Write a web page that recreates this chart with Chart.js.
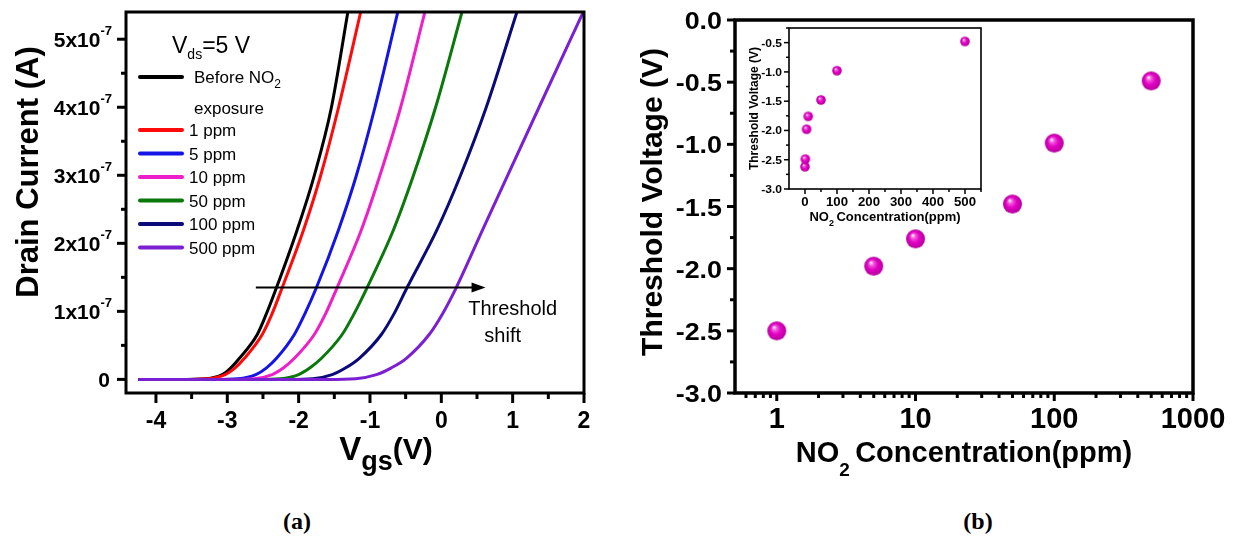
<!DOCTYPE html>
<html>
<head>
<meta charset="utf-8">
<script src="https://cdn.jsdelivr.net/npm/chart.js@4.4.1/dist/chart.umd.min.js"></script>
<style>
  html, body { margin: 0; padding: 0; background: #fff; }
  #wrap { position: relative; width: 1237px; height: 551px; background: #fff; overflow: hidden; }
  canvas { position: absolute; }
  .cap { position: absolute; transform: translate(-50%, -50%); font: bold 24px "Liberation Serif", "Times New Roman", serif; color: #000; }
</style>
</head>
<body>
<div id="wrap">
  <canvas id="ivChart" width="620" height="480" style="left:0;top:0;width:620px;height:480px"></canvas>
  <canvas id="vthChart" width="637" height="480" style="left:600px;top:0;width:637px;height:480px"></canvas>
  <canvas id="insetChart" width="245" height="215" style="left:745px;top:20px;width:245px;height:215px"></canvas>
  <div class="cap" style="left:297px;top:521px">(a)</div>
  <div class="cap" style="left:978px;top:521px">(b)</div>
</div>
<script>
// panel (a): transfer curves, drain current in units of 1e-7 A
const seriesNames = ['Before NO2 exposure', '1 ppm', '5 ppm', '10 ppm', '50 ppm', '100 ppm', '500 ppm'];
const seriesColors = ['#000000', '#ff0a0a', '#1414e6', '#ee1ec8', '#0a780a', '#0a0a78', '#7a1fd2'];
const drainCurrent = [0, 0, 0.01, 0.07, 0.17, 0.31, 0.66, 0.97, 1.35, 2.2, 3.0, 4.0, 5.4];
const vgsBefore = [-4.25, -3.7, -3.3, -3.07, -2.95, -2.83, -2.58, -2.45, -2.31, -2.02, -1.78, -1.54, -1.31];
const vgs1ppm   = [-4.25, -3.65, -3.27, -3.03, -2.89, -2.76, -2.51, -2.37, -2.23, -1.93, -1.69, -1.44, -1.13];
const vgs5ppm   = [-4.25, -3.2, -2.85, -2.6, -2.45, -2.31, -2.06, -1.91, -1.75, -1.44, -1.19, -0.93, -0.61];
const vgs10ppm  = [-4.25, -2.95, -2.62, -2.37, -2.21, -2.06, -1.78, -1.62, -1.46, -1.12, -0.86, -0.57, -0.23];
const vgs50ppm  = [-4.25, -2.6, -2.26, -2.0, -1.84, -1.68, -1.39, -1.22, -1.04, -0.67, -0.39, -0.08, 0.29];
const vgs100ppm = [-4.25, -2.15, -1.8, -1.53, -1.34, -1.15, -0.84, -0.66, -0.48, -0.06, 0.27, 0.63, 1.06];
const vgs500ppm = [-4.25, -1.6, -1.2, -0.91, -0.70, -0.49, -0.17, 0.02, 0.21, 0.58, 0.93, 1.37, 1.99];
const vgsSeries = [vgsBefore, vgs1ppm, vgs5ppm, vgs10ppm, vgs50ppm, vgs100ppm, vgs500ppm];
const ivXTicks = [-4, -3, -2, -1, 0, 1, 2];
const ivYTicks = [0, 1, 2, 3, 4, 5];

// panel (b): threshold voltage vs NO2 concentration
const no2Ppm = [1, 5, 10, 50, 100, 500];
const thresholdV = [-2.5, -1.98, -1.76, -1.48, -0.99, -0.49];
const insetPpm = [0, 1, 5, 10, 50, 100, 500];
const insetThresholdV = [-2.62, -2.49, -1.98, -1.76, -1.48, -0.98, -0.48];
const vthXTicks = [1, 10, 100, 1000];
const vthYTicks = [0, -0.5, -1, -1.5, -2, -2.5, -3];
const insetXTicks = [0, 100, 200, 300, 400, 500];
const insetYTicks = [-0.5, -1, -1.5, -2, -2.5, -3];

const SANS = '"Liberation Sans", Arial, Helvetica, sans-serif';
const fnt = (w, s) => w + ' ' + s + 'px ' + SANS;

// draw a run of text pieces [text, font, dy] with optional horizontal stretch
function rich(ctx, parts, x, y, align, sx) {
  sx = sx || 1;
  const ws = parts.map(p => { ctx.font = p[1]; return ctx.measureText(p[0]).width * sx; });
  const total = ws.reduce((s, w) => s + w, 0);
  let cx = align === 'center' ? x - total / 2 : align === 'right' ? x - total : x;
  ctx.textAlign = 'left';
  ctx.textBaseline = 'alphabetic';
  ctx.fillStyle = '#000';
  parts.forEach((p, i) => {
    ctx.save();
    ctx.font = p[1];
    ctx.translate(cx, y + (p[2] || 0));
    ctx.scale(sx, 1);
    ctx.fillText(p[0], 0, 0);
    ctx.restore();
    cx += ws[i];
  });
}

function seg(ctx, x1, y1, x2, y2) {
  ctx.beginPath(); ctx.moveTo(x1, y1); ctx.lineTo(x2, y2); ctx.stroke();
}

function frame(ctx, a, lw) {
  ctx.strokeStyle = '#000';
  ctx.lineWidth = lw;
  ctx.strokeRect(a.left, a.top, a.right - a.left, a.bottom - a.top);
}

function sphere(r) {
  const c = document.createElement('canvas');
  const s = Math.ceil(r * 2 + 2);
  c.width = s; c.height = s;
  const g = c.getContext('2d');
  const m = s / 2;
  const grad = g.createRadialGradient(m - r * 0.3, m - r * 0.38, r * 0.04, m, m, r);
  grad.addColorStop(0, '#fff0fc');
  grad.addColorStop(0.22, '#f257dc');
  grad.addColorStop(0.55, '#e200c4');
  grad.addColorStop(1, '#b5009c');
  g.fillStyle = grad;
  g.beginPath(); g.arc(m, m, r, 0, Math.PI * 2); g.fill();
  return c;
}

// ---------- panel (a) ----------
const ivDecor = {
  id: 'ivDecor',
  afterDraw(chart) {
    const { ctx, chartArea: a, scales: { x, y } } = chart;
    ctx.save();
    frame(ctx, a, 3);
    ctx.lineWidth = 3;
    for (let v = -4; v <= 2; v += 0.5) {
      const px = x.getPixelForValue(v);
      seg(ctx, px, a.bottom, px, a.bottom + (Number.isInteger(v) ? 10 : 6));
    }
    for (let v = 0; v <= 5; v += 0.5) {
      const py = y.getPixelForValue(v);
      seg(ctx, a.left, py, a.left - (Number.isInteger(v) ? 9 : 5), py);
    }
    ivXTicks.forEach(v => rich(ctx, [[String(v), fnt('bold', 23)]], x.getPixelForValue(v), a.bottom + 35, 'center'));
    ivYTicks.forEach(v => {
      const py = y.getPixelForValue(v);
      if (v === 0) rich(ctx, [['0', fnt('bold', 21), 0]], a.left - 16, py + 8, 'right');
      else rich(ctx, [[v + 'x10', fnt('bold', 21), 0], ['-7', fnt('bold', 13), -12]], a.left - 14, py + 8, 'right');
    });
    // axis titles
    ctx.save();
    ctx.translate(27, 172);
    ctx.rotate(-Math.PI / 2);
    rich(ctx, [['Drain Current (A)', fnt('bold', 31)]], 0, 11, 'center');
    ctx.restore();
    rich(ctx, [['V', fnt('bold', 33)], ['gs', fnt('bold', 27), 10], ['(V)', fnt('bold', 30), -1]], 386, 460, 'center');

    // legend
    rich(ctx, [['V', fnt('normal', 23)], ['ds', fnt('normal', 14), 6], ['=5 V', fnt('normal', 23)]], 172, 53, 'left');
    chart.data.datasets.forEach((ds, i) => {
      const ry = i === 0 ? 77 : 130 + (i - 1) * 23.5;
      ctx.strokeStyle = ds.borderColor;
      ctx.lineWidth = 4;
      ctx.lineCap = 'round';
      seg(ctx, 140, ry, 182, ry);
      ctx.lineCap = 'butt';
      if (i === 0) {
        rich(ctx, [['Before NO', fnt('normal', 17)], ['2', fnt('normal', 12), 5]], 194, ry + 6, 'left');
        rich(ctx, [['exposure', fnt('normal', 17)]], 194, ry + 37, 'left');
      } else {
        rich(ctx, [[ds.label, fnt('normal', 17)]], 189, ry + 6, 'left');
      }
    });

    // threshold shift arrow
    const o = chart.options.plugins.ivDecor;
    const ay = y.getPixelForValue(o.arrowLevel);
    const x1 = x.getPixelForValue(o.arrowFrom), x2 = x.getPixelForValue(o.arrowTo);
    ctx.strokeStyle = '#000';
    ctx.fillStyle = '#000';
    ctx.lineWidth = 2;
    seg(ctx, x1, ay, x2 - 10, ay);
    ctx.beginPath();
    ctx.moveTo(x2, ay); ctx.lineTo(x2 - 14, ay - 5); ctx.lineTo(x2 - 14, ay + 5); ctx.closePath(); ctx.fill();
    rich(ctx, [['Threshold', fnt('normal', 20)]], x.getPixelForValue(o.textX), y.getPixelForValue(o.textY), 'center');
    rich(ctx, [['shift', fnt('normal', 20)]], x.getPixelForValue(o.textX2), y.getPixelForValue(o.textY2), 'center');
    ctx.restore();
  }
};

new Chart(document.getElementById('ivChart').getContext('2d'), {
  type: 'line',
  data: {
    datasets: seriesNames.map((name, i) => ({
      label: name,
      data: vgsSeries[i].map((v, k) => ({ x: v, y: drainCurrent[k] })),
      borderColor: seriesColors[i],
      borderWidth: 3,
      pointRadius: 0,
      cubicInterpolationMode: 'monotone',
      fill: false,
      order: seriesNames.length - i
    }))
  },
  options: {
    responsive: false,
    animation: false,
    layout: { padding: { left: 126, top: 12, right: 36, bottom: 87 } },
    scales: {
      x: { type: 'linear', min: -4.42, max: 2, display: false },
      y: { type: 'linear', min: -0.2, max: 5.4, display: false }
    },
    plugins: {
      legend: { display: false },
      tooltip: { enabled: false },
      ivDecor: { arrowLevel: 1.35, arrowFrom: -2.6, arrowTo: 0.62, textX: 1.0, textY: 0.95, textX2: 0.86, textY2: 0.55 }
    }
  },
  plugins: [ivDecor]
});

// ---------- panel (b) ----------
const vthDecor = {
  id: 'vthDecor',
  afterDraw(chart) {
    const { ctx, chartArea: a, scales: { x, y } } = chart;
    ctx.save();
    frame(ctx, a, 3.5);
    ctx.lineWidth = 3;
    vthXTicks.forEach(v => {
      const px = x.getPixelForValue(v);
      seg(ctx, px, a.bottom, px, a.bottom + 8);
    });
    [0.1, 1, 10, 100].forEach(d => {
      for (let k = 2; k <= 9; k++) {
        const v = k * d;
        if (v <= 0.5 || v >= 1000) continue;
        const px = x.getPixelForValue(v);
        seg(ctx, px, a.bottom, px, a.bottom + 5);
      }
    });
    for (let v = -3; v <= 0; v += 0.25) {
      const py = y.getPixelForValue(v);
      seg(ctx, a.left, py, a.left - (v % 0.5 === 0 ? 8 : 5), py);
    }
    vthXTicks.forEach(v => rich(ctx, [[String(v), fnt('bold', 29)]], x.getPixelForValue(v), a.bottom + 35, 'center'));
    vthYTicks.forEach(v => rich(ctx, [[v.toFixed(1), fnt('bold', 24)]], a.left - 13, y.getPixelForValue(v) + 9, 'right', 1.12));
    ctx.save();
    ctx.translate(51, 202);
    ctx.rotate(-Math.PI / 2);
    rich(ctx, [['Threshold Voltage (V)', fnt('bold', 30)]], 0, 11, 'center');
    ctx.restore();
    rich(ctx, [['NO', fnt('bold', 29)], ['2 ', fnt('bold', 19), 14], ['Concentration(ppm)', fnt('bold', 29)]], (a.left + a.right) / 2, 462, 'center');
    ctx.restore();
  }
};

new Chart(document.getElementById('vthChart').getContext('2d'), {
  type: 'scatter',
  data: {
    datasets: [{
      label: 'Threshold voltage',
      data: no2Ppm.map((c, i) => ({ x: c, y: thresholdV[i] })),
      pointStyle: sphere(9.5),
      pointRadius: 10,
      showLine: false
    }]
  },
  options: {
    responsive: false,
    animation: false,
    layout: { padding: { left: 135, top: 20, right: 44, bottom: 87 } },
    scales: {
      x: { type: 'logarithmic', min: 0.5, max: 1000, display: false },
      y: { type: 'linear', min: -3, max: 0, display: false }
    },
    plugins: { legend: { display: false }, tooltip: { enabled: false } }
  },
  plugins: [vthDecor]
});

// ---------- inset ----------
const insetDecor = {
  id: 'insetDecor',
  afterDraw(chart) {
    const { ctx, chartArea: a, scales: { x, y } } = chart;
    ctx.save();
    frame(ctx, a, 1.6);
    ctx.lineWidth = 1.5;
    for (let v = 0; v <= 550; v += 50) {
      const px = x.getPixelForValue(v);
      seg(ctx, px, a.bottom, px, a.bottom + (v % 100 === 0 ? 5 : 3));
    }
    for (let v = -3; v <= -0.25; v += 0.25) {
      const py = y.getPixelForValue(v);
      seg(ctx, a.left, py, a.left - (v % 0.5 === 0 ? 5 : 3), py);
    }
    insetXTicks.forEach(v => rich(ctx, [[String(v), fnt('bold', 12)]], x.getPixelForValue(v), a.bottom + 17, 'center', 1.1));
    insetYTicks.forEach(v => rich(ctx, [[v.toFixed(1), fnt('bold', 11.5)]], a.left - 7, y.getPixelForValue(v) + 4, 'right', 1.05));
    ctx.save();
    ctx.translate(9, (a.top + a.bottom) / 2);
    ctx.rotate(-Math.PI / 2);
    rich(ctx, [['Threshold Voltage (V)', fnt('bold', 12)]], 0, 4, 'center');
    ctx.restore();
    rich(ctx, [['NO', fnt('bold', 13)], ['2 ', fnt('bold', 9), 5], ['Concentration(ppm)', fnt('bold', 13)]], (a.left + a.right) / 2, 201, 'center');
    ctx.restore();
  }
};

new Chart(document.getElementById('insetChart').getContext('2d'), {
  type: 'scatter',
  data: {
    datasets: [{
      label: 'Threshold voltage',
      data: insetPpm.map((c, i) => ({ x: c, y: insetThresholdV[i] })),
      pointStyle: sphere(4.8),
      pointRadius: 5,
      showLine: false
    }]
  },
  options: {
    responsive: false,
    animation: false,
    layout: { padding: { left: 44, top: 8, right: 9, bottom: 46 } },
    scales: {
      x: { type: 'linear', min: -50, max: 550, display: false },
      y: { type: 'linear', min: -3, max: -0.25, display: false }
    },
    plugins: { legend: { display: false }, tooltip: { enabled: false } }
  },
  plugins: [insetDecor]
});
</script>
</body>
</html>
